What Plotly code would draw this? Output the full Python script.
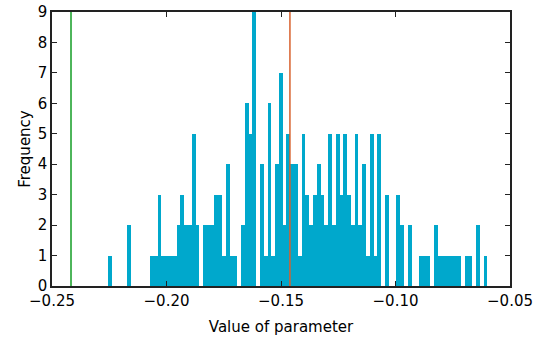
import plotly.graph_objects as go

# Histogram bins (100 equal bins) and counts
bin_start = -0.2254
bin_width = 0.001655
counts = [
    1, 0, 0, 0, 0, 2, 0, 0, 0, 0,   # 0-9
    0, 1, 1, 3, 1, 1, 1, 1, 2, 3,   # 10-19
    2, 2, 5, 2, 0, 2, 2, 2, 3, 3,   # 20-29
    1, 4, 1, 1, 0, 2, 6, 5, 9, 0,   # 30-39
    4, 1, 6, 1, 4, 7, 2, 5, 4, 4,   # 40-49
    1, 5, 3, 2, 3, 4, 3, 2, 5, 2,   # 50-59
    5, 3, 5, 3, 2, 5, 2, 4, 1, 5,   # 60-69
    1, 5, 0, 3, 0, 0, 3, 2, 0, 2,   # 70-79
    0, 0, 1, 1, 1, 0, 2, 1, 1, 1,   # 80-89
    1, 1, 1, 0, 1, 1, 0, 2, 0, 1,   # 90-99
]
green_line_x = -0.2417
red_line_x = -0.1461

x_ticks = [-0.25, -0.20, -0.15, -0.10, -0.05]
x_tick_labels = ["\u22120.25", "\u22120.20", "\u22120.15", "\u22120.10", "\u22120.05"]
y_ticks = list(range(0, 10))

centers = [bin_start + bin_width * (i + 0.5) for i in range(len(counts))]

fig = go.Figure()
fig.add_trace(go.Bar(
    x=centers, y=counts, width=bin_width,
    marker=dict(color="#00a8cc", line=dict(width=0)),
    showlegend=False, hoverinfo="skip",
))
fig.add_vline(x=green_line_x, line=dict(color="#4db55a", width=2))
fig.add_vline(x=red_line_x, line=dict(color="#d8602c", width=1.5))

axis_common = dict(
    showline=True, linecolor="#222222", linewidth=1.5, mirror="allticks",
    ticks="inside", ticklen=5, tickcolor="#222222", tickwidth=1,
    showgrid=False, zeroline=False, automargin=False,
    tickfont=dict(family="DejaVu Sans", size=15, color="black"),
)

fig.update_layout(
    width=545, height=338,
    margin=dict(l=52, r=35, t=12, b=52),
    paper_bgcolor="white", plot_bgcolor="white",
    bargap=0,
    xaxis=dict(
        range=[-0.25, -0.05], tickvals=x_ticks, ticktext=x_tick_labels,
        title=dict(text="Value of parameter", standoff=13,
                   font=dict(family="DejaVu Sans", size=15, color="black")),
        **axis_common,
    ),
    yaxis=dict(
        range=[0, 9], tickvals=y_ticks,
        title=dict(text="Frequency", standoff=3,
                   font=dict(family="DejaVu Sans", size=15, color="black")),
        **axis_common,
    ),
)

fig.write_html("out.html", config={"displayModeBar": False},
               post_script="document.body.style.margin='0';")
